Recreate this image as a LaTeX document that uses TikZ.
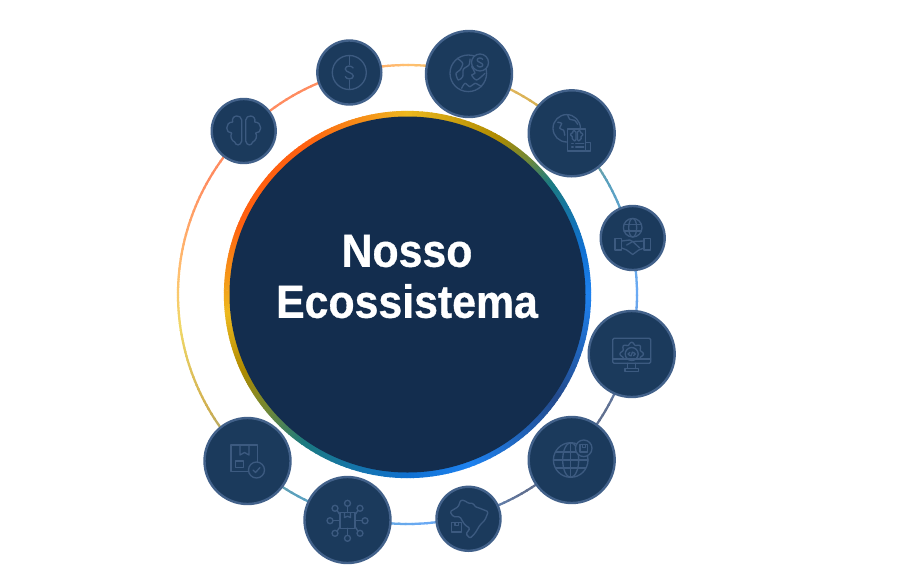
\documentclass[tikz,border=0pt]{standalone}
\usepackage{fontspec}
\newfontfamily\titlefont[FakeStretch=0.92, BoldFeatures={FakeBold=0.7}]{Liberation Sans}
\definecolor{hubfill}{HTML}{132D4E}
\definecolor{satfill}{HTML}{1B3A5C}
\definecolor{satline}{HTML}{42618A}
\definecolor{iconline}{HTML}{3C5A80}
% colours of the inner ring
\definecolor{iyellow}{HTML}{EDB91F}
\definecolor{igold}{HTML}{AE8A00}
\definecolor{iolive}{HTML}{6F8838}
\definecolor{iteal}{HTML}{1B7A80}
\definecolor{iblue}{HTML}{1070D0}
\definecolor{ibright}{HTML}{1E82F0}
\definecolor{idark}{HTML}{234A8C}
\definecolor{iorange}{HTML}{F59518}
\definecolor{ired}{HTML}{FF6010}
% colours of the outer ring
\definecolor{opeach}{HTML}{FFC070}
\definecolor{ogold}{HTML}{D0AF50}
\definecolor{oteal}{HTML}{5AA0BC}
\definecolor{osky}{HTML}{6AAAF5}
\definecolor{ogrey}{HTML}{607090}
\definecolor{oyellow}{HTML}{F0D868}
\definecolor{ocoral}{HTML}{FF8C60}
\tikzset{
  satsmall/.style={circle, inner sep=0pt, fill=satfill, draw=satline, line width=1.8pt, minimum size=48pt},
  satlarge/.style={circle, inner sep=0pt, fill=satfill, draw=satline, line width=1.8pt, minimum size=64.5pt},
  hubdisc/.style={circle, inner sep=0pt, fill=hubfill, minimum size=267pt},
  icon/.style={draw=iconline, line width=1pt, line cap=round, line join=round},
}
% #1 radius, #2 line width, #3 list of start/end/colour/colour
\newcommand{\gradring}[3]{
  \foreach \a/\b/\ca/\cb in {#3} {
    \foreach \t in {0,...,19} {
      \pgfmathsetmacro{\s}{\a+(\b-\a)*\t/20}
      \pgfmathsetmacro{\e}{\a+(\b-\a)*(\t+1.25)/20}
      \pgfmathsetmacro{\p}{100*(\t+0.5)/20}
      \draw[line width=#2, color=\cb!\p!\ca] (\s:#1) arc[start angle=\s, end angle=\e, radius=#1];
    }
  }
}
\newcommand{\brainshape}{
  \foreach \m in {1,-1} {
    \draw[icon, xscale=\m] (2,-11) -- (2,10) (2,-11) .. controls (2,-14) and (5,-15) .. (7,-15)
      .. controls (10,-15) and (12,-12) .. (11,-9) .. controls (15,-9) and (17,-6) .. (17,-3)
      .. controls (17,0) and (15,2) .. (12,2) .. controls (14,5) and (12,10) .. (9,11)
      .. controls (8,15) and (3,15) .. (2,10);
  }
}
\newcommand{\dollarshape}{
  \draw[icon] (3.8,-4.5) .. controls (3,-7) and (-4,-7.5) .. (-4,-3.5)
    .. controls (-4,0) and (4,0) .. (4,3.5) .. controls (4,7.5) and (-3.5,7) .. (-4,4);
}
\begin{document}
\begin{tikzpicture}[x=0.75pt, y=-0.75pt]
  \useasboundingbox (0,0) rectangle (900,576);
  \begin{scope}[shift={(407.5,294.5)}]
    \gradring{229.5}{1.7pt}{-90/-50/opeach/ogold, -50/-30/ogold/oteal, -30/0/oteal/osky, 0/30/osky/ogrey,
      30/60/ogrey/ogrey, 60/85/ogrey/osky, 85/120/osky/oteal, 120/150/oteal/ogold, 150/172/ogold/oyellow,
      172/185/oyellow/opeach, 185/210/opeach/ocoral, 210/245/ocoral/ocoral, 245/270/ocoral/opeach}
    \gradring{180.3}{5pt}{-90/-60/iyellow/igold, -60/-48/igold/iolive, -48/-38/iolive/iteal, -38/-15/iteal/iblue,
      -15/0/iblue/ibright, 0/35/ibright/idark, 35/70/idark/ibright, 70/90/ibright/iblue, 90/125/iblue/iteal,
      125/140/iteal/iolive, 140/155/iolive/igold, 155/174/igold/iyellow, 174/186/iyellow/iorange,
      186/203/iorange/ired, 203/235/ired/ired, 235/258/ired/iorange, 258/270/iorange/iyellow}
  \end{scope}
  \node[hubdisc] (hub) at (407.5,294.5) {};
  \node[align=center, text=white, font=\titlefont\bfseries\fontsize{34.9}{38.25}\selectfont] (hubtitle) at (407,276.5) {Nosso\\Ecossistema};
  % small and large circles, clockwise from the brain
  \node[satsmall] (brain) at (243.7,131) {};
  \node[satsmall] (dollar) at (349.3,72.5) {};
  \node[satlarge] (globemoney) at (469,74) {};
  \node[satlarge] (globedoc) at (571.7,133.3) {};
  \node[satsmall] (handshake) at (632.7,238) {};
  \node[satlarge] (monitor) at (631.7,354) {};
  \node[satlarge] (globebox) at (571.7,460) {};
  \node[satsmall] (brazil) at (468.5,518.8) {};
  \node[satlarge] (network) at (347.5,520) {};
  \node[satlarge] (boxcheck) at (247.5,461) {};
  % icons
  \begin{scope}[shift={(brain)}]
    \brainshape
  \end{scope}
  \begin{scope}[shift={(dollar)}]
    \draw[icon] (0,0) circle [radius=17];
    \draw[icon] (0,-17) -- (0,-8) (0,8) -- (0,17);
    \dollarshape
  \end{scope}
  \begin{scope}[shift={(globemoney)}]
    \draw[icon] (-0.7,-0.7) circle [radius=18.3];
    \draw[icon] plot[smooth] coordinates {(-11.7,-15.7) (-6.3,-10.7) (-9,-4) (-13,-0.7) (-10.7,6) (-6.3,2.7) (-5.7,-4.7) (0,-9) (1,-15)};
    \draw[icon] plot[smooth] coordinates {(-7.3,14.3) (-4,9.3) (1,12.7) (6,9.3) (12.7,12.7)};
    \draw[icon] plot[smooth] coordinates {(2.7,-7.3) (6,-0.7) (2.7,1) (7.7,6) (16,-0.7)};
    \draw[icon, fill=satfill] (11,-11.5) circle [radius=8.5];
    \begin{scope}[shift={(11,-11.5)}, scale=0.7]
      \dollarshape
    \end{scope}
  \end{scope}
  \begin{scope}[shift={(globedoc)}]
    \draw[icon] (-5,-5) circle [radius=13.7];
    \draw[icon] plot[smooth] coordinates {(-14,-11) (-10,-10) (-12,-5) (-8,-3) (-7,2)};
    \draw[icon] plot[smooth] coordinates {(-4,-18.5) (-2,-14) (3,-13) (6,-9)};
    \draw[icon, fill=satfill] (-4.4,-4.3) rectangle (14,17.7);
    \draw[icon] (14,9.4) -- (18.6,9.4) -- (18.6,17.7) -- (14,17.7);
    \begin{scope}[shift={(5,2.7)}, scale=0.36]
      \brainshape
    \end{scope}
    \draw[icon] (0,10.4) -- (1.5,10.4) (4,10.4) -- (12,10.4) (0,13.7) -- (1.5,13.7) (4,13.7) -- (12,13.7);
  \end{scope}
  \begin{scope}[shift={(handshake)}]
    \draw[icon] (0,-10.3) circle [radius=9.3];
    \draw[icon] (0,-10.3) ellipse [x radius=4, y radius=9.3];
    \draw[icon] (-8.6,-13.5) -- (8.6,-13.5) (-8.6,-7) -- (8.6,-7);
    \draw[icon] (-17.7,0.3) rectangle (-11,12);
    \draw[icon] (11.3,0.3) rectangle (18,12);
    \draw[icon] (-11,3) -- (-3,2) -- (0,3.5) -- (11.3,3);
    \draw[icon] (-11,10) -- (-6,12) -- (0,16.5) -- (6,12) -- (11.3,10);
    \draw[icon] (-6,7) -- (0,3.5) -- (7,10);
  \end{scope}
  \begin{scope}[shift={(monitor)}]
    \draw[icon, rounded corners=1pt] (-19,-15.7) rectangle (19,9.3);
    \draw[icon] (-19,5) -- (19,5);
    \draw[icon] (-4,9.3) -- (-4,14.3) (4,9.3) -- (4,14.3);
    \draw[icon] (-6.7,14.3) rectangle (6.7,17.6);
    \draw[icon] plot[domain=155:385, samples=80, smooth] ({(10.5+1.2*cos(8*\x))*cos(\x)},{(10.5+1.2*cos(8*\x))*sin(\x)});
    \draw[icon] (0,0) circle [radius=6.5];
    \draw[icon] (-1.8,-1.6) -- (-3.6,0) -- (-1.8,1.6) (1.8,-1.6) -- (3.6,0) -- (1.8,1.6) (0.7,-2) -- (-0.7,2);
  \end{scope}
  \begin{scope}[shift={(globebox)}]
    \draw[icon] (-1,0) circle [radius=17.3];
    \draw[icon] (-1,0) ellipse [x radius=8, y radius=17.3];
    \draw[icon] (-1,-17.3) -- (-1,17.3) (-18.3,0) -- (16.3,0) (-15.9,-8) -- (13.9,-8) (-15.9,8) -- (13.9,8);
    \draw[icon, fill=satfill] (12,-11.7) circle [radius=8.3];
    \draw[icon] (8.3,-15.4) rectangle (15.7,-8);
    \draw[icon] (10.5,-15.4) -- (10.5,-12.5) -- (13.5,-12.5) -- (13.5,-15.4);
  \end{scope}
  \begin{scope}[shift={(brazil)}]
    \draw[icon, rounded corners=1pt] (-18.5,-7.1) -- (-10.2,-12.1) -- (-7.8,-18.8) -- (-3.5,-18.1) -- (-0.2,-15.5) -- (4.8,-15.5)
      -- (6.5,-12.1) -- (11.5,-10.5) -- (19.8,-7.1) -- (16.5,1.2) -- (11.5,6.2) -- (6.5,14.5) -- (1.5,19.5) -- (-2.5,15.2)
      -- (1.5,9.5) -- (-3.5,6.2) -- (-5.8,2.9) -- (-8.5,-2.1) -- (-15.2,-2.1) -- cycle;
    \draw[icon] (-16.8,3.9) rectangle (-6.8,13.2);
    \draw[icon] (-13.5,3.9) -- (-13.5,7) -- (-10,7) -- (-10,3.9);
  \end{scope}
  \begin{scope}[shift={(network)}]
    \foreach \ax/\ay/\bx/\by in {0/-7.3/0/-13.7, 0/8.3/0/15.3, -7.5/0.7/-14.5/0.7, 7.5/0.7/14.5/0.7,
      -7.5/-5/-10.5/-9.7, 7.5/-5/10.5/-9.7, -7.5/6.5/-10.5/11.3, 7.5/6.5/10.5/11.3} {
      \draw[icon] (\ax,\ay) -- (\bx,\by);
    }
    \foreach \cx/\cy in {0/-16.7, 0/18.3, -17.5/0.7, 17.5/0.7, -12.5/-11.7, 12.5/-11.7, -12.5/13.3, 12.5/13.3} {
      \draw[icon] (\cx,\cy) circle [radius=3];
    }
    \draw[icon] (-7.5,-7.3) rectangle (7.5,8.3);
    \draw[icon] (-3,-7.3) -- (-3,-2.5) -- (0,-3.8) -- (3,-2.5) -- (3,-7.3);
  \end{scope}
  \begin{scope}[shift={(boxcheck)}]
    \draw[icon] (-16.5,-16) rectangle (10,10.7);
    \draw[icon] (-7.5,-16) -- (-7.5,-6) -- (-3,-8.5) -- (1.5,-6) -- (1.5,-16);
    \draw[icon] (-11.8,0) rectangle (-4,6.3);
    \draw[icon, fill=satfill] (9,9) circle [radius=8];
    \draw[icon] (5.5,9) -- (8,11.5) -- (12.5,6.5);
  \end{scope}
\end{tikzpicture}
\end{document}
